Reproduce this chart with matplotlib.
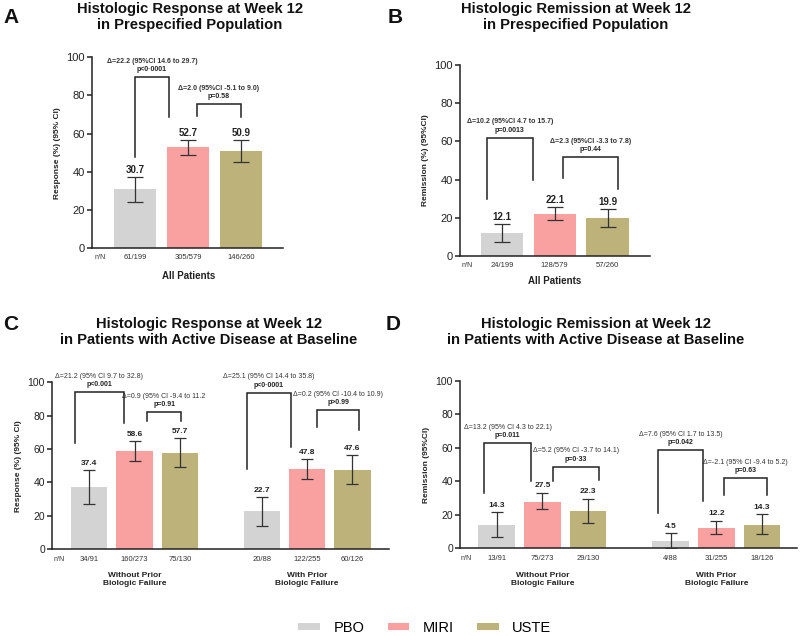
import numpy as np
import matplotlib.pyplot as plt
from matplotlib.patches import Patch

plt.rcParams['font.family'] = ['Liberation Sans', 'DejaVu Sans']

arms = ['PBO', 'MIRI', 'USTE']
colors = ['#d3d3d3', '#f9a0a0', '#bdb27a']

# panel A - response, all patients
a_val = [30.7, 52.7, 50.9]
a_lo = [24.0, 48.7, 44.9]
a_hi = [37.0, 56.5, 56.5]
a_n = ['61/199', '305/579', '146/260']
a_delta = ['Δ=22.2 (95%CI 14.6 to 29.7)', 'Δ=2.0 (95%CI -5.1 to 9.0)']
a_p = ['p<0·0001', 'p=0.58']

# panel B - remission, all patients
b_val = [12.1, 22.1, 19.9]
b_lo = [7.5, 18.8, 15.4]
b_hi = [16.6, 25.5, 24.4]
b_n = ['24/199', '128/579', '57/260']
b_delta = ['Δ=10.2 (95%CI 4.7 to 15.7)', 'Δ=2.3 (95%CI -3.3 to 7.8)']
b_p = ['p=0.0013', 'p=0.44']

# panel C - response by prior biologic failure
groups = ['Without Prior\nBiologic Failure', 'With Prior\nBiologic Failure']
c_val = [37.4, 58.6, 57.7, 22.7, 47.8, 47.6]
c_lo = [27.0, 53.0, 49.2, 14.0, 41.8, 39.0]
c_hi = [47.4, 64.8, 66.6, 31.2, 54.0, 56.2]
c_n = ['34/91', '160/273', '75/130', '20/88', '122/255', '60/126']
c_delta = ['Δ=21.2 (95% CI 9.7 to 32.8)', 'Δ=0.9 (95% CI -9.4 to 11.2',
           'Δ=25.1 (95% CI 14.4 to 35.8)', 'Δ=0.2 (95% CI -10.4 to 10.9)']
c_p = ['p<0.001', 'p=0.91', 'p<0·0001', 'p>0.99']

# panel D - remission by prior biologic failure
d_val = [14.3, 27.5, 22.3, 4.5, 12.2, 14.3]
d_lo = [7.1, 23.4, 15.5, 0.0, 8.5, 8.5]
d_hi = [21.6, 33.3, 29.8, 9.1, 16.5, 20.6]
d_n = ['13/91', '75/273', '29/130', '4/88', '31/255', '18/126']
d_delta = ['Δ=13.2 (95% CI 4.3 to 22.1)', 'Δ=5.2 (95% CI -3.7 to 14.1)',
           'Δ=7.6 (95% CI 1.7 to 13.5)', 'Δ=-2.1 (95% CI -9.4 to 5.2)']
d_p = ['p=0.011', 'p=0·33', 'p=0.042', 'p=0.63']

# bracket layout: x left, x right, top, left leg end, right leg end
a_br = [(0, 0.63, 89.5, 47.6, 68.6), (1.16, 2.0, 75.4, 69, 68.6)]
b_br = [(-0.28, 0.58, 61.8, 29.8, 39.8), (1.15, 2.2, 51.8, 41, 35)]
c_br = [(-0.32, 0.76, 94, 63.6, 75.6), (1.27, 2.03, 82, 77, 76.6),
        (3.47, 4.44, 93.6, 48.2, 61.2), (5.02, 5.95, 83.2, 73.2, 71.6)]
d_br = [(-0.27, 0.75, 62.9, 33.3, 40.3), (1.23, 2.23, 48.8, 40.3, 40.7),
        (3.52, 4.51, 58.5, 21.4, 28.4), (4.98, 5.91, 42, 32, 32.1)]


def panel(ax, val, lo, hi, counts, deltas, ps, brackets, ylabel, small):
    k = len(val)
    x = np.array([0, 1, 2, 3.8, 4.8, 5.8][:k])
    cols = (colors * 2)[:k]
    err = [np.array(val) - np.array(lo), np.array(hi) - np.array(val)]
    ax.bar(x, val, width=0.8, color=cols, zorder=2)
    ax.errorbar(x, val, yerr=err, fmt='none', ecolor='#333333',
                elinewidth=0.9, capsize=4 if small else 5.5, capthick=0.9, zorder=3)
    for xi, h, v in zip(x, hi, val):
        ax.annotate(f'{v:.1f}', (xi, h), xytext=(0, 5), textcoords='offset points',
                    ha='center', va='center', fontsize=6 if small else 7,
                    fontweight='bold', color='#222222')
    for (x1, x2, top, l1, l2), dt, pt in zip(brackets, deltas, ps):
        ax.plot([x1, x1, x2, x2], [l1, top, top, l2], color='#222222', lw=1.1,
                solid_joinstyle='miter', zorder=4, clip_on=False)
        xm = (x1 + x2) / 2
        ax.annotate(dt, (xm, top), xytext=(0, 11.5), textcoords='offset points',
                    ha='center', va='center', fontsize=5,
                    fontweight='normal' if small else 'bold', color='#333333')
        ax.annotate(pt, (xm, top), xytext=(0, 5.5), textcoords='offset points',
                    ha='center', va='center', fontsize=5, fontweight='bold',
                    color='#222222')
    tr = ('data', 'axes fraction')
    ax.annotate('n/N', (-0.66, 0), xycoords=tr, xytext=(0, -7), textcoords='offset points',
                ha='center', va='center', fontsize=5, color='#333333')
    for xi, c in zip(x, counts):
        ax.annotate(c, (xi, 0), xycoords=tr, xytext=(0, -7), textcoords='offset points',
                    ha='center', va='center', fontsize=5.5, color='#333333')
    ax.set_ylim(0, 100)
    ax.set_yticks([0, 20, 40, 60, 80, 100])
    ax.set_xticks([])
    ax.spines['top'].set_visible(False)
    ax.spines['right'].set_visible(False)
    for s in ['left', 'bottom']:
        ax.spines[s].set_linewidth(1.1)
        ax.spines[s].set_color('#222222')
    ax.tick_params(axis='y', length=3.5, width=1.1, labelsize=7.5 if small else 8,
                   pad=1.5, colors='#222222')
    ax.set_ylabel(ylabel, fontsize=6, fontweight='bold', labelpad=4, color='#222222')


fig = plt.figure(figsize=(8, 6.36), dpi=100)

axA = fig.add_axes([0.115, 0.610, 0.239, 0.300])
panel(axA, a_val, a_lo, a_hi, a_n, a_delta, a_p, a_br, 'Response (%) (95% CI)', False)
axA.set_xlim(-0.82, 2.8)
axA.annotate('All Patients', (1, 0), xycoords=('data', 'axes fraction'), xytext=(0, -20),
             textcoords='offset points', ha='center', va='center', fontsize=7,
             fontweight='bold', color='#222222')

axB = fig.add_axes([0.575, 0.5975, 0.2375, 0.3005])
panel(axB, b_val, b_lo, b_hi, b_n, b_delta, b_p, b_br, 'Remission (%) (95%CI)', False)
axB.set_xlim(-0.79, 2.8)
axB.annotate('All Patients', (1, 0), xycoords=('data', 'axes fraction'), xytext=(0, -18),
             textcoords='offset points', ha='center', va='center', fontsize=7,
             fontweight='bold', color='#222222')

axC = fig.add_axes([0.065, 0.1363, 0.421, 0.2627])
panel(axC, c_val, c_lo, c_hi, c_n, c_delta, c_p, c_br, 'Response (%) (95% CI)', True)
axC.set_xlim(-0.82, 6.6)

axD = fig.add_axes([0.575, 0.1376, 0.421, 0.2634])
panel(axD, d_val, d_lo, d_hi, d_n, d_delta, d_p, d_br, 'Remission (95%CI)', True)
axD.set_xlim(-0.8, 6.56)

for ax in [axC, axD]:
    for gx, g in zip([1, 4.8], groups):
        ax.annotate(g, (gx, 0), xycoords=('data', 'axes fraction'), xytext=(0, -22),
                    textcoords='offset points', ha='center', va='center', fontsize=6,
                    fontweight='bold', color='#222222', linespacing=1.2)

# titles and panel letters
title_kw = dict(ha='center', va='center', fontsize=10.6, fontweight='bold',
                linespacing=1.15, color='#111111')
fig.text(0.2375, 0.9735, 'Histologic Response at Week 12\nin Prespecified Population', **title_kw)
fig.text(0.72, 0.9735, 'Histologic Remission at Week 12\nin Prespecified Population', **title_kw)
fig.text(0.261, 0.4775, 'Histologic Response at Week 12\nin Patients with Active Disease at Baseline',
         **title_kw)
fig.text(0.745, 0.4775, 'Histologic Remission at Week 12\nin Patients with Active Disease at Baseline',
         **title_kw)
for lx, ly, lt in [(0.004, 0.9725, 'A'), (0.485, 0.9725, 'B'), (0.004, 0.489, 'C'), (0.482, 0.489, 'D')]:
    fig.text(lx, ly, lt, ha='left', va='center', fontsize=15, fontweight='bold', color='#111111')

handles = [Patch(facecolor=c, edgecolor='none') for c in colors]
fig.legend(handles, arms, loc='center', bbox_to_anchor=(0.531, 0.0126), ncol=3,
           frameon=False, fontsize=10.5, handlelength=1.5, handleheight=0.4,
           handletextpad=0.9, columnspacing=1.6, borderpad=0)

plt.savefig('out.png', dpi=100)
